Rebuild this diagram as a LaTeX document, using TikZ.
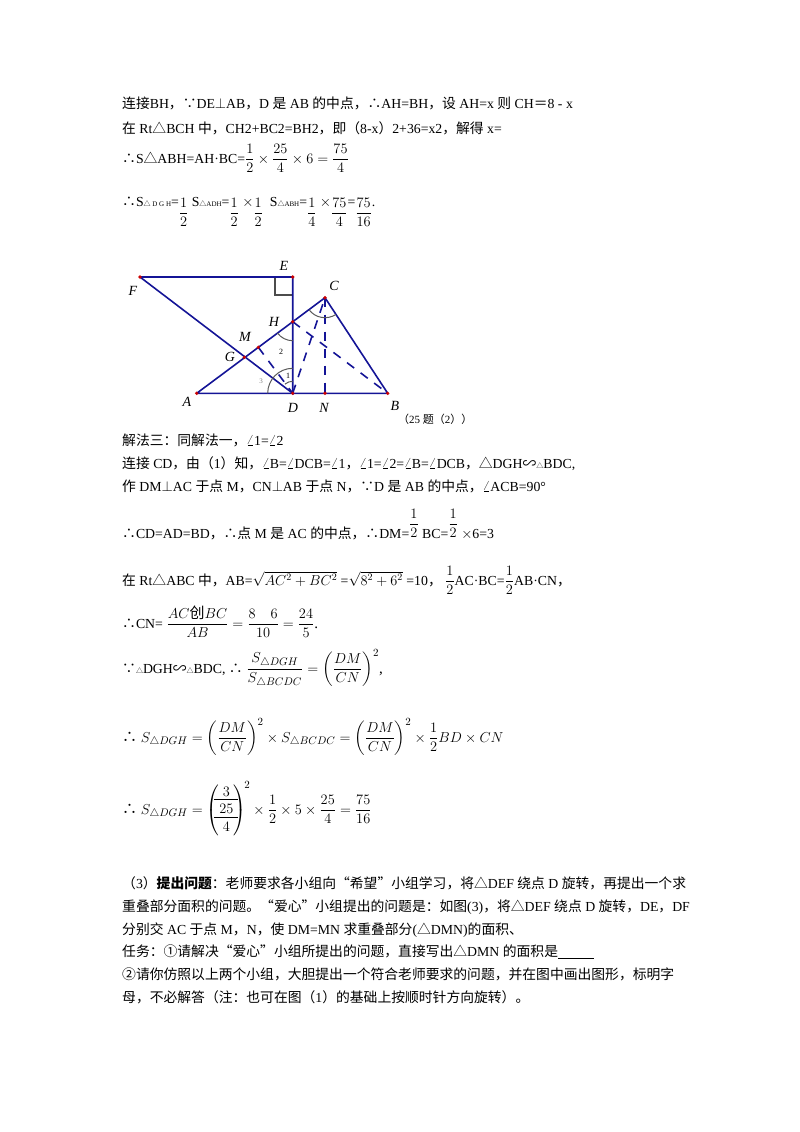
\documentclass[tikz,border=0pt]{standalone}
\usepackage{amsmath}
\usepackage{fontspec}
\setmainfont{Liberation Serif}
\newfontfamily\cjk{Noto Sans CJK SC}
\newcommand\Z[1]{{\cjk #1}}
\newcommand\lowfrac[2]{\raisebox{-11pt}{$\dfrac{#1}{#2}$}}
\newcommand\upfrac[2]{\raisebox{10pt}{$\dfrac{#1}{#2}$}}
\definecolor{navy}{RGB}{20,20,150}
\begin{document}
\begin{tikzpicture}[x=1pt,y=-1pt,
  txt/.style={anchor=base west,inner sep=0pt,font=\fontsize{13.8}{16}\selectfont},
  big/.style={anchor=base west,inner sep=0pt,font=\fontsize{15}{17}\selectfont},
  seg/.style={navy,line width=1.6pt},
  dline/.style={navy,line width=1.6pt,dash pattern=on 9pt off 8pt},
  pt/.style={circle,fill=red!80!black,inner sep=1.3pt},
  lab/.style={font=\itshape\fontsize{14}{16}\selectfont,inner sep=1pt},
  arcs/.style={gray!70!black,line width=1pt}]
\useasboundingbox (0,0) rectangle (800,1132);
% ---- text top
\node[txt] (t1) at (122,108) {\Z{连接}BH\Z{，∵}DE$\perp$AB\Z{，}D \Z{是} AB \Z{的中点，∴}AH=BH\Z{，设} AH=x \Z{则} CH\Z{＝}8 - x};
\node[txt] (t2) at (122,133) {\Z{在} Rt\Z{△}BCH \Z{中，}CH2+BC2=BH2\Z{，即（}8-x\Z{）}2+36=x2\Z{，解得} x=};
\node[txt] (t3) at (122,163) {\Z{∴}S\Z{△}ABH=AH·BC=\fontsize{15}{17}\selectfont$\dfrac{1}{2}\times\dfrac{25}{4}\times6=\dfrac{75}{4}$};
\node[txt] (t4) at (122,206) {\Z{∴}S{\scriptsize\Z{△} D G H}=\lowfrac12 S{\scriptsize\Z{△}ADH}=\lowfrac12 $\times$\lowfrac12 \ S{\scriptsize\Z{△}ABH}=\lowfrac14 $\times$\lowfrac{75}{4}=\lowfrac{75}{16}.};
% ---- figure
\coordinate (F) at (140,277);
\coordinate (E) at (292.7,277);
\coordinate (C) at (325,297.7);
\coordinate (H) at (292.7,321.7);
\coordinate (M) at (258.3,347.3);
\coordinate (G) at (244.3,357.3);
\coordinate (A) at (196.7,393.3);
\coordinate (D) at (292.7,393.3);
\coordinate (N) at (325,393.3);
\coordinate (B) at (387.7,393.3);
\draw[gray!60!black,line width=2pt] (275,277) -- (275,295) -- (292.7,295);
\draw[seg] (F) -- (E) -- (D) -- (F);
\draw[seg] (A) -- (B) -- (C) -- (A);
\draw[dline] (D) -- (C);
\draw[dline] (C) -- (N);
\draw[dline] (H) -- (B);
\draw[dline] (M) -- (D);
\draw[arcs] (C) ++(143:20) arc (143:57:20);
\draw[arcs] (H) ++(143:19) arc (143:90:19);
\draw[arcs] (D) ++(180:25) arc (180:270:25);
\draw[arcs] (D) ++(230:12) arc (230:270:12);
\node[font=\fontsize{8}{9}\selectfont] (n1) at (288,376) {1};
\node[font=\fontsize{8}{9}\selectfont] (n2) at (281,352) {2};
\node[font=\fontsize{7}{8}\selectfont,gray] (n3) at (261,381) {3};
\foreach \p in {F,E,C,H,M,G,A,D,N,B} \node[pt] at (\p) {};
\node[lab] (lF) at (133,291) {F};
\node[lab] (lE) at (284,266) {E};
\node[lab] (lC) at (334,286) {C};
\node[lab] (lH) at (274,322) {H};
\node[lab] (lM) at (245,337) {M};
\node[lab] (lG) at (230,357) {G};
\node[lab] (lA) at (187,402) {A};
\node[lab] (lD) at (293,408) {D};
\node[lab] (lN) at (324,408) {N};
\node[lab] (lB) at (395,406) {B};
\node[txt,font=\fontsize{11}{12}\selectfont] (cap) at (398,423) {\Z{（}25 \Z{题（}2\Z{））}};
% ---- text middle
\node[txt] (t5) at (122,445) {\Z{解法三：同解法一，}$\angle$1=$\angle$2};
\node[txt] (t6) at (122,468) {\Z{连接} CD\Z{，由（}1\Z{）知，}$\angle$B=$\angle$DCB=$\angle$1\Z{，}$\angle$1=$\angle$2=$\angle$B=$\angle$DCB\Z{，△}DGH\Z{∽}{\scriptsize\Z{△}}BDC,};
\node[txt] (t7) at (122,491) {\Z{作} DM$\perp$AC \Z{于点} M\Z{，}CN$\perp$AB \Z{于点} N\Z{，∵}D \Z{是} AB \Z{的中点，}$\angle$ACB=90°};
\node[txt] (t8) at (122,538) {\Z{∴}CD=AD=BD\Z{，∴点} M \Z{是} AC \Z{的中点，∴}DM=\upfrac12 BC=\upfrac12 $\times$6=3};
\node[txt] (t9) at (122,585) {\Z{在} Rt\Z{△}ABC \Z{中，}AB=$\sqrt{AC^2+BC^2}$ =$\sqrt{8^2+6^2}$ =10\Z{，} $\dfrac12$AC·BC=$\dfrac12$AB·CN\Z{，}};
\node[big] (t10) at (122,628) {{\fontsize{13.8}{16}\selectfont\Z{∴}CN=} $\dfrac{AC\text{\Z{创}}BC}{AB}=\dfrac{8\quad6}{10}=\dfrac{24}{5}$.};
\node[big] (t11) at (122,673) {{\fontsize{13.8}{16}\selectfont\Z{∵}{\scriptsize\Z{△}}DGH\Z{∽}{\scriptsize\Z{△}}BDC, \Z{∴}} $\dfrac{S_{\triangle DGH}}{S_{\triangle BCDC}}=\left(\dfrac{DM}{CN}\right)^2$,};
\node[big] (t12) at (122,742) {\Z{∴} $S_{\triangle DGH}=\left(\dfrac{DM}{CN}\right)^2\times S_{\triangle BCDC}=\left(\dfrac{DM}{CN}\right)^2\times\dfrac12 BD\times CN$};
\node[big] (t13) at (122,814) {\Z{∴} $S_{\triangle DGH}=\left(\begin{matrix}3\\[-2pt]\hline\rule{0pt}{14pt}25\\[-2pt]\hline\rule{0pt}{14pt}4\end{matrix}\right)^{\!2}\times\dfrac12\times5\times\dfrac{25}{4}=\dfrac{75}{16}$};
% ---- bottom
\node[txt] (b1) at (122,888) {\Z{（}3\Z{）}\textbf{\Z{提出问题}}\Z{：老师要求各小组向“希望”小组学习，将△}DEF \Z{绕点} D \Z{旋转，再提出一个求}};
\node[txt] (b2) at (122,911) {\Z{重叠部分面积的问题。“爱心”小组提出的问题是：如图}(3)\Z{，将△}DEF \Z{绕点} D \Z{旋转，}DE\Z{，}DF};
\node[txt] (b3) at (122,934) {\Z{分别交} AC \Z{于点} M\Z{，}N\Z{，使} DM=MN \Z{求重叠部分}(\Z{△}DMN)\Z{的面积、}};
\node[txt] (b4) at (122,956) {\Z{任务：①请解决“爱心”小组所提出的问题，直接写出△}DMN \Z{的面积是}\underline{\hspace{36pt}}};
\node[txt] (b5) at (122,979) {\Z{②请你仿照以上两个小组，大胆提出一个符合老师要求的问题，并在图中画出图形，标明字}};
\node[txt] (b6) at (122,1002) {\Z{母，不必解答（注：也可在图（}1\Z{）的基础上按顺时针方向旋转）。}};
\end{tikzpicture}
\end{document}
